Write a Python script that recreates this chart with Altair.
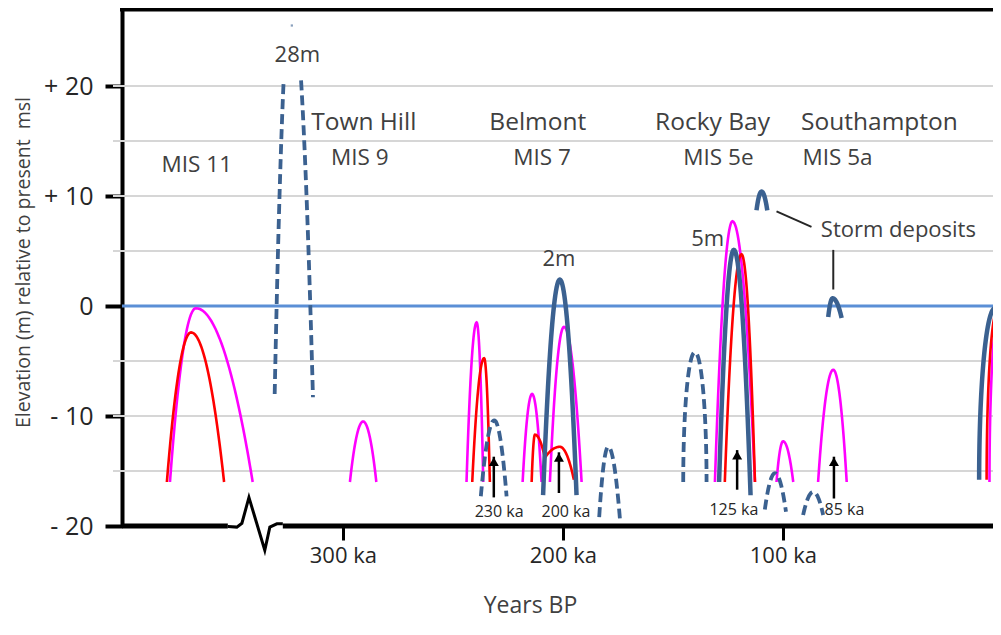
import altair as alt
import pandas as pd
import numpy as np

W, H = 871, 517
X_DOMAIN = [400.4, 4.5]
Y_DOMAIN = [-20, 27]
FONT = "Open Sans"

# ---- sea-level arcs (ka BP, metres) ----
arc_style = ["m", "m", "m", "m", "m", "m", "m", "m", "m",
             "r", "r", "r", "r", "r", "r",
             "b", "b", "b", "b", "b",
             "d", "d", "d", "d", "d", "d"]
arc_left_ka = [378.6, 296.8, 243.8, 218.3, 205.9, 130.9, 102.9, 84.0, 6.1,
               380.0, 241.2, 214.2, 208.2, 126.4, 7.4,
               209.0, 129.0, 112.0, 79.4, 10.8,
               331.0, 237.3, 183.5, 145.3, 108.2, 90.8]
arc_peak_ka = [366.8, 290.8, 239.2, 214.0, 199.5, 122.9, 99.9, 77.1, 1.5,
               369.0, 235.8, 212.7, 201.4, 118.8, 2.4,
               201.4, 122.3, 109.7, 77.4, 3.6,
               323.5, 231.2, 179.4, 140.0, 103.6, 86.2]
arc_right_ka = [341.0, 284.8, 236.2, 209.7, 191.5, 112.7, 95.3, 71.0, -20.0,
                354.0, 233.2, 208.2, 195.0, 112.7, -20.0,
                193.8, 114.7, 107.1, 73.3, -20.0,
                313.6, 225.6, 174.1, 134.7, 98.6, 81.7]
arc_left_m = [-16, -16, -16, -16, -16, -16, -16, -16, -16,
              -16, -16, -16, -13.8, -16, -15.8,
              -17.2, -16, 8.7, -1.0, -15.8,
              -8.0, -17.3, -19.2, -16, -18.5, -19.0]
arc_peak_m = [-0.2, -10.5, -1.5, -8.0, -1.9, 7.7, -12.3, -5.8, -0.1,
              -2.4, -4.75, -11.7, -12.8, 4.7, -0.3,
              2.4, 5.1, 10.4, 0.7, -0.2,
              28.0, -10.4, -12.8, -4.2, -15.2, -16.9]
arc_right_m = [-16, -16, -16, -16, -16, -16, -16, -16, -16,
               -16, -16, -13.8, -15.8, -16, -15.8,
               -17.2, -17.2, 8.7, -1.1, -15.8,
               -8.3, -17.3, -19.3, -16, -18.7, -19.0]
arc_shape = ["p", "p", "p", "p", "p", "p", "p", "p", "e",
             "p", "p", "p", "p", "p", "e",
             "p", "p", "p", "p", "e",
             "p", "p", "p", "e", "p", "p"]
GAP_ABOVE = 20.6          # the 28 m arc is hidden behind its label above this
town_hill_dot_ka, town_hill_dot_m = [323.2], [25.5]

# ---- labels ----
site_names = ["Town Hill", "Belmont", "Rocky Bay", "Southampton"]
site_ka = [290.5, 211.4, 132.0, 56.1]
site_m = [16.6, 16.6, 16.6, 16.6]

mis_labels = ["MIS 11", "MIS 9", "MIS 7", "MIS 5e", "MIS 5a"]
mis_ka = [366.4, 292.3, 209.5, 129.3, 75.2]
mis_m = [12.8, 13.5, 13.5, 13.5, 13.5]

height_labels = ["28m", "2m", "5m", "Storm deposits"]
height_ka = [320.7, 201.8, 134.2, 47.5]
height_m = [22.8, 4.3, 6.1, 6.9]

arrow_labels = ["230 ka", "200 ka", "125 ka", "85 ka"]
arrow_label_ka = [229.0, 198.6, 122.3, 72.0]
arrow_label_m = [-18.7, -18.7, -18.5, -18.5]
arrow_ka = [231.4, 201.8, 120.8, 76.8]
arrow_base_m = [-17.4, -17.0, -16.7, -17.5]
arrow_tip_m = [-13.7, -13.3, -13.1, -13.7]

leader_ka = [102.9, 77.1]
leader_m = [8.6, 5.1]
leader_ka2 = [87.0, 77.1]
leader_m2 = [7.2, 1.5]

grid_levels = [-15, -10, -5, 5, 10, 15, 20]
y_ticks = [-20, -10, 0, 10, 20]
x_ticks = [300, 200, 100]

# bottom axis with a break
axis_seg = ["a", "a", "z", "z", "z", "z", "z", "z", "z", "z", "c", "c"]
axis_ka = [400.4, 352.3, 352.3, 348.2, 345.9, 342.7, 335.5, 333.2, 330.0, 327.3, 327.3, 4.5]
axis_m = [-20.0, -20.0, -20.05, -20.1, -19.75, -17.4, -22.2, -20.1, -19.8, -19.8, -20.0, -20.0]

# ---- build arc point table ----
rows = []
N = 80
for i in range(len(arc_style)):
    xl, xp, xr = arc_left_ka[i], arc_peak_ka[i], arc_right_ka[i]
    yl, yp, yr = arc_left_m[i], arc_peak_m[i], arc_right_m[i]
    for k in range(N + 1):
        th = np.pi * k / N
        c = np.cos(th)
        if c >= 0:
            s, x, yb = c, xp + (xl - xp) * c, yl
        else:
            s, x, yb = -c, xp + (xr - xp) * (-c), yr
        h = yp - yb
        if arc_shape[i] == "e":
            y = yb + h * np.sqrt(max(0.0, 1 - s * s))
        else:
            y = yb + h * (1 - s * s)
        seg = f"{i}"
        if yp > Y_DOMAIN[1]:
            if y > GAP_ABOVE:
                continue
            seg = f"{i}{'L' if c >= 0 else 'R'}"
        rows.append({"style": arc_style[i], "seg": seg, "ka": x, "m": y})
arcs = pd.DataFrame(rows)

xs = alt.Scale(domain=X_DOMAIN, nice=False, zero=False)
ys = alt.Scale(domain=Y_DOMAIN, nice=False, zero=False)

xaxis = alt.Axis(values=x_ticks, labelExpr="datum.value + ' ka'", title="Years BP",
                 domain=False, grid=False, ticks=True, tickSize=14, tickWidth=3,
                 tickColor="black", labelFont=FONT, labelFontSize=22, labelColor="#262626",
                 labelPadding=5, titleFont=FONT, titleFontSize=23, titleFontWeight="normal",
                 titleColor="#404040", titleX=408, titleY=79, titleAlign="center",
                 titleBaseline="middle")
yaxis = alt.Axis(values=y_ticks,
                 labelExpr="datum.value > 0 ? '+ ' + datum.value : (datum.value < 0 ? '- ' + abs(datum.value) : '0')",
                 title="Elevation (m) relative to present\u00a0 msl",
                 domain=True, domainColor="black", domainWidth=4, ticks=True, tickSize=17,
                 tickWidth=4, tickColor="black", grid=False, labelFont=FONT, labelFontSize=25,
                 labelColor="#262626", labelPadding=12, titleFont=FONT, titleFontSize=19.5,
                 titleFontWeight="normal", titleColor="#404040", titleX=-99, titleY=253,
                 titleAlign="center", titleBaseline="middle")


def X(f):
    return alt.X(f, type="quantitative", scale=xs, axis=xaxis)


def Y(f):
    return alt.Y(f, type="quantitative", scale=ys, axis=yaxis)


grid = alt.Chart(pd.DataFrame({"lvl": grid_levels})).mark_rule(
    color="#d6d6d6", strokeWidth=2).encode(
    y=Y("lvl"), x=alt.value(-9), x2=alt.value(W))

zero = alt.Chart(pd.DataFrame({"lvl": [0]})).mark_rule(
    color="#5b8fd6", strokeWidth=3).encode(
    y=Y("lvl"), x=alt.value(0), x2=alt.value(W))


def arc_layer(style, **kw):
    return alt.Chart(arcs[arcs["style"] == style]).mark_line(clip=True, **kw).encode(
        x=X("ka"), y=Y("m"), detail="seg:N")


magenta = arc_layer("m", color="#ff00ff", strokeWidth=2.6)
red = arc_layer("r", color="#ff0000", strokeWidth=2.6)
dashed = arc_layer("d", color="#3b6190", strokeWidth=3.8, strokeDash=[10, 5])
solid = arc_layer("b", color="#3b6190", strokeWidth=4.5, strokeJoin="round")

dot = alt.Chart(pd.DataFrame({"ka": town_hill_dot_ka, "m": town_hill_dot_m})).mark_point(
    shape="square", size=5, filled=True, color="#3b6190", opacity=0.6).encode(
    x=X("ka"), y=Y("m"))

arr_df = pd.DataFrame({"ka": arrow_ka, "b": arrow_base_m, "t": arrow_tip_m})
arrow_shaft = alt.Chart(arr_df).mark_rule(color="black", strokeWidth=2.5).encode(
    x=X("ka"), y=Y("b"), y2="t")
arrow_head = alt.Chart(arr_df).mark_point(
    shape="triangle-up", size=100, filled=True, color="black", opacity=1, yOffset=5).encode(
    x=X("ka"), y=Y("t"))

lead_df = pd.DataFrame({"ka": leader_ka, "m": leader_m, "ka2": leader_ka2, "m2": leader_m2})
leaders = alt.Chart(lead_df).mark_rule(color="#262626", strokeWidth=2).encode(
    x=X("ka"), y=Y("m"), x2="ka2", y2="m2")


def text_layer(txt, ka, m, size, color="#404040"):
    df = pd.DataFrame({"txt": txt, "ka": ka, "m": m})
    return alt.Chart(df).mark_text(font=FONT, fontSize=size, color=color,
                                   align="center", baseline="middle").encode(
        x=X("ka"), y=Y("m"), text="txt:N")


t_sites = text_layer(site_names, site_ka, site_m, 24.5)
t_mis = text_layer(mis_labels, mis_ka, mis_m, 22.5)
t_heights = text_layer(height_labels, height_ka, height_m, 22)
t_arrows = text_layer(arrow_labels, arrow_label_ka, arrow_label_m, 16, "#262626")

top_frame = alt.Chart(pd.DataFrame({"lvl": [Y_DOMAIN[1]]})).mark_rule(
    color="black", strokeWidth=5).encode(
    y=Y("lvl"), x=alt.value(-2), x2=alt.value(W))

ax_df = pd.DataFrame({"seg": axis_seg, "ka": axis_ka, "m": axis_m})
axis_thick = alt.Chart(ax_df[ax_df["seg"] != "z"]).mark_line(
    color="black", strokeWidth=5).encode(x=X("ka"), y=Y("m"), detail="seg:N")
axis_zig = alt.Chart(ax_df[ax_df["seg"] == "z"]).mark_line(
    color="black", strokeWidth=3, strokeJoin="miter").encode(
    x=alt.X("ka", type="quantitative", scale=xs, axis=xaxis, sort=None),
    y=Y("m"), order=alt.Order("idx:Q")).transform_window(idx="row_number()")

chart = alt.layer(
    grid, zero, magenta, red, dashed, solid, dot, arrow_shaft, arrow_head, leaders,
    t_sites, t_mis, t_heights, t_arrows, top_frame, axis_thick, axis_zig
).properties(
    width=W, height=H,
    autosize=alt.AutoSizeParams(type="none"),
    padding={"left": 114, "top": 1, "right": 0, "bottom": 96},
    background="white",
).configure_view(stroke=None)

chart.save("out.html", embed_options={"renderer": "svg", "actions": False})
